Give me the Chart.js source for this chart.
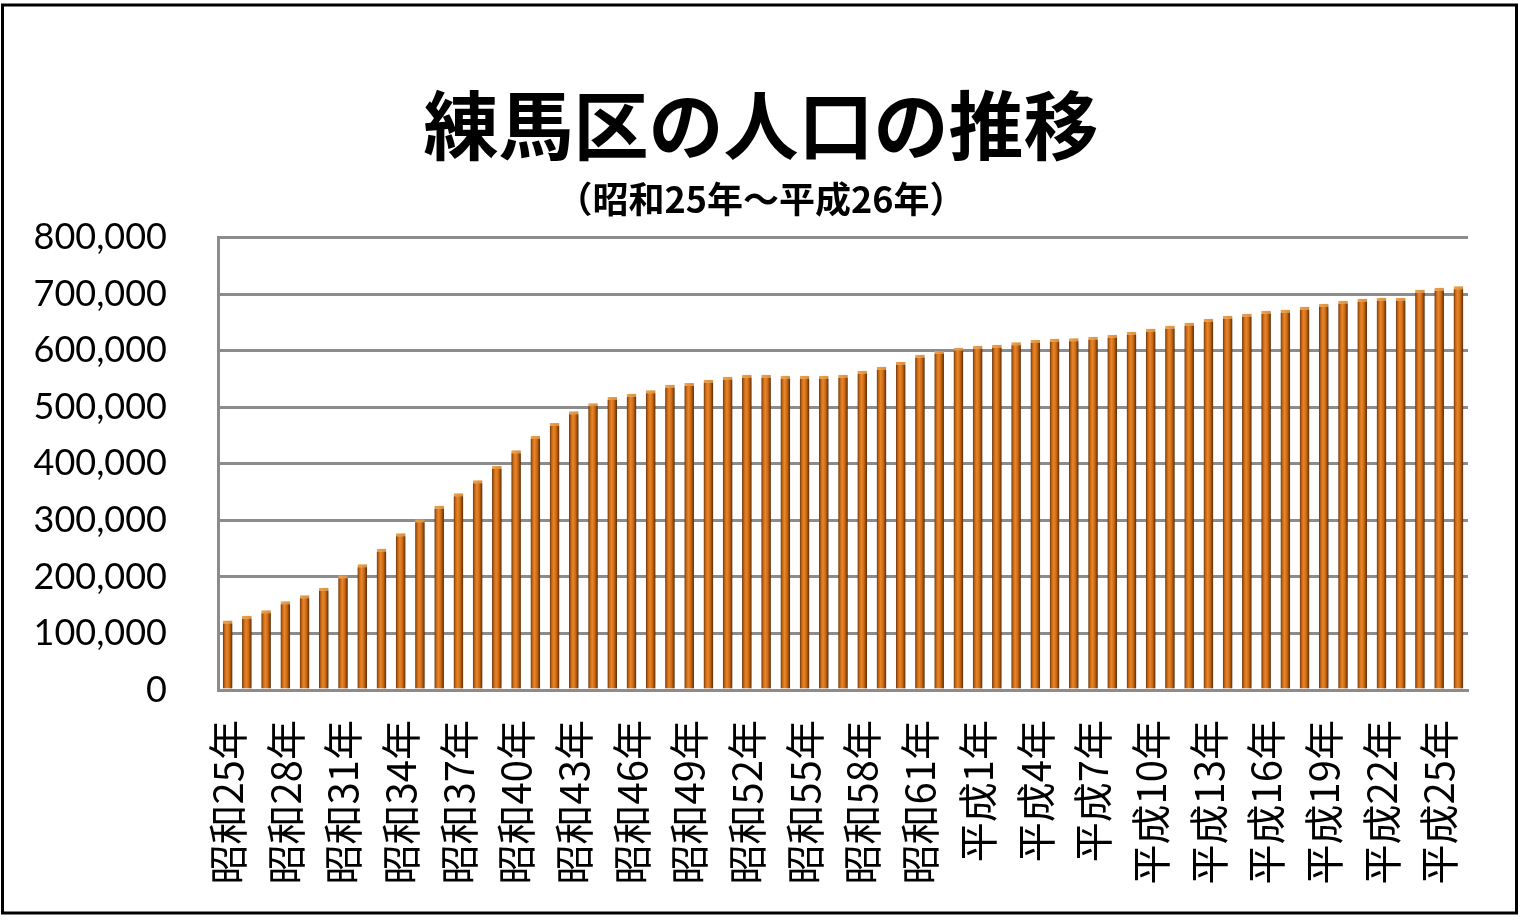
<!DOCTYPE html>
<html lang="ja">
<head>
<meta charset="utf-8">
<title>練馬区の人口の推移</title>
<script src="https://cdn.jsdelivr.net/npm/chart.js@4.4.1/dist/chart.umd.min.js"></script>
<style>
  html, body { margin: 0; padding: 0; background: #fff; }
  #chart { display: block; }
</style>
</head>
<body>
<canvas id="chart" width="1522" height="922"></canvas>
<script>
'use strict';

// 昭和25年 .. 昭和63年, 平成1年 .. 平成26年
const categories = [
  '昭和25年', '昭和26年', '昭和27年', '昭和28年', '昭和29年', '昭和30年', '昭和31年', '昭和32年',
  '昭和33年', '昭和34年', '昭和35年', '昭和36年', '昭和37年', '昭和38年', '昭和39年', '昭和40年',
  '昭和41年', '昭和42年', '昭和43年', '昭和44年', '昭和45年', '昭和46年', '昭和47年', '昭和48年',
  '昭和49年', '昭和50年', '昭和51年', '昭和52年', '昭和53年', '昭和54年', '昭和55年', '昭和56年',
  '昭和57年', '昭和58年', '昭和59年', '昭和60年', '昭和61年', '昭和62年', '昭和63年',
  '平成1年', '平成2年', '平成3年', '平成4年', '平成5年', '平成6年', '平成7年', '平成8年',
  '平成9年', '平成10年', '平成11年', '平成12年', '平成13年', '平成14年', '平成15年', '平成16年',
  '平成17年', '平成18年', '平成19年', '平成20年', '平成21年', '平成22年', '平成23年', '平成24年',
  '平成25年', '平成26年'
];

const population = [
  122700, 131500, 140900, 156800, 167400, 181000, 202800, 222300,
  250000, 277000, 302000, 326000, 348000, 371000, 396000, 424000,
  449000, 472000, 493000, 507000, 518000, 524000, 530000, 540000,
  543000, 548700, 554000, 557500, 557500, 555700, 555700, 555700,
  557500, 564600, 571700, 580500, 593000, 600000, 605300,
  608800, 610600, 615000, 618800, 621000, 622000, 624800, 628000,
  633600, 639000, 644000, 649600, 656600, 662000, 665500, 670800,
  672600, 677900, 683000, 688500, 692000, 693800, 693800, 708000,
  711500, 713800
];

const yTicks = [0, 100000, 200000, 300000, 400000, 500000, 600000, 700000, 800000];
const labelEvery = 3;

const barPct = 0.5;

// orange cylinder look, built per bar from its x position
function barFill(context) {
  let chart = context.chart;
  let area = chart.chartArea;
  if (!area || !chart.scales.x) {
    return '#d9741a';
  }
  let xScale = chart.scales.x;
  let cx = xScale.getPixelForValue(context.dataIndex);
  let half = (xScale.width / categories.length) * barPct / 2;
  let g = chart.ctx.createLinearGradient(cx - half, 0, cx + half, 0);
  g.addColorStop(0, '#6a3207');
  g.addColorStop(0.2, '#c46512');
  g.addColorStop(0.42, '#e9862a');
  g.addColorStop(0.68, '#cc6a14');
  g.addColorStop(1, '#5a2a05');
  return g;
}

const barShadow = {
  id: 'barShadow',
  beforeDatasetsDraw(chart) {
    let c = chart.ctx;
    c.save();
    c.shadowColor = 'rgba(0, 0, 0, 0.4)';
    c.shadowBlur = 10;
    c.shadowOffsetX = 6;
    c.shadowOffsetY = 0;
  },
  afterDatasetsDraw(chart) {
    chart.ctx.restore();
  }
};

const frameBorder = {
  id: 'frameBorder',
  afterDraw(chart) {
    let c = chart.ctx;
    c.save();
    c.strokeStyle = '#000';
    c.lineWidth = 3;
    c.strokeRect(2.5, 5, 1514, 908);
    c.restore();
  }
};

const ctx = document.getElementById('chart').getContext('2d');

let chart = new Chart(ctx, { //eslint-disable-line
  type: 'bar',
  data: {
    labels: categories,
    datasets: [{
      label: '人口',
      data: population,
      backgroundColor: barFill,
      borderColor: '#f3a24a',
      borderWidth: { top: 3, left: 0, right: 0, bottom: 0 },
      borderSkipped: false,
      barPercentage: barPct,
      categoryPercentage: 1
    }]
  },
  options: {
    responsive: false,
    animation: false,
    events: [],
    layout: {
      padding: 0
    },
    plugins: {
      legend: { display: false },
      tooltip: { enabled: false },
      title: {
        display: true,
        text: '練馬区の人口の推移',
        color: '#000',
        font: { family: '"Noto Sans CJK JP"', size: 75, weight: 'bold' },
        padding: { top: 80, bottom: 0 }
      },
      subtitle: {
        display: true,
        text: '（昭和25年～平成26年）',
        color: '#000',
        font: { family: '"Noto Sans CJK JP"', size: 36, weight: 'bold' },
        padding: { top: 7.4, bottom: 17 }
      }
    },
    scales: {
      x: {
        grid: { display: false, drawTicks: false },
        border: { display: true, color: '#8c8c8c', width: 3 },
        ticks: {
          autoSkip: false,
          maxRotation: 90,
          minRotation: 90,
          padding: 30,
          color: '#000',
          font: { family: '"Noto Sans CJK JP"', size: 40 },
          callback: function(value, index) {
            return index % labelEvery === 0 ? categories[index] : '';
          }
        },
        afterFit: function(scale) {
          scale.height = 232;
          scale.paddingLeft = 0;
          scale.paddingRight = 0;
        }
      },
      y: {
        min: 0,
        max: 800000,
        grid: { color: '#8c8c8c', lineWidth: 3, drawTicks: false },
        border: { display: true, color: '#8c8c8c', width: 3 },
        afterBuildTicks: function(scale) {
          scale.ticks = yTicks.map(v => ({ value: v }));
        },
        ticks: {
          padding: 51,
          color: '#000',
          font: { family: 'Lato', size: 36 },
          callback: function(value) {
            return value.toLocaleString('en-US');
          }
        },
        afterFit: function(scale) {
          scale.width = 218;
        }
      },
      // empty right-hand axis, only keeps the right margin
      gap: {
        type: 'linear',
        position: 'right',
        display: true,
        grid: { display: false, drawTicks: false },
        border: { display: false },
        ticks: { display: false },
        afterFit: function(scale) {
          scale.width = 54;
        }
      }
    }
  },
  plugins: [barShadow, frameBorder]
});
</script>
</body>
</html>
